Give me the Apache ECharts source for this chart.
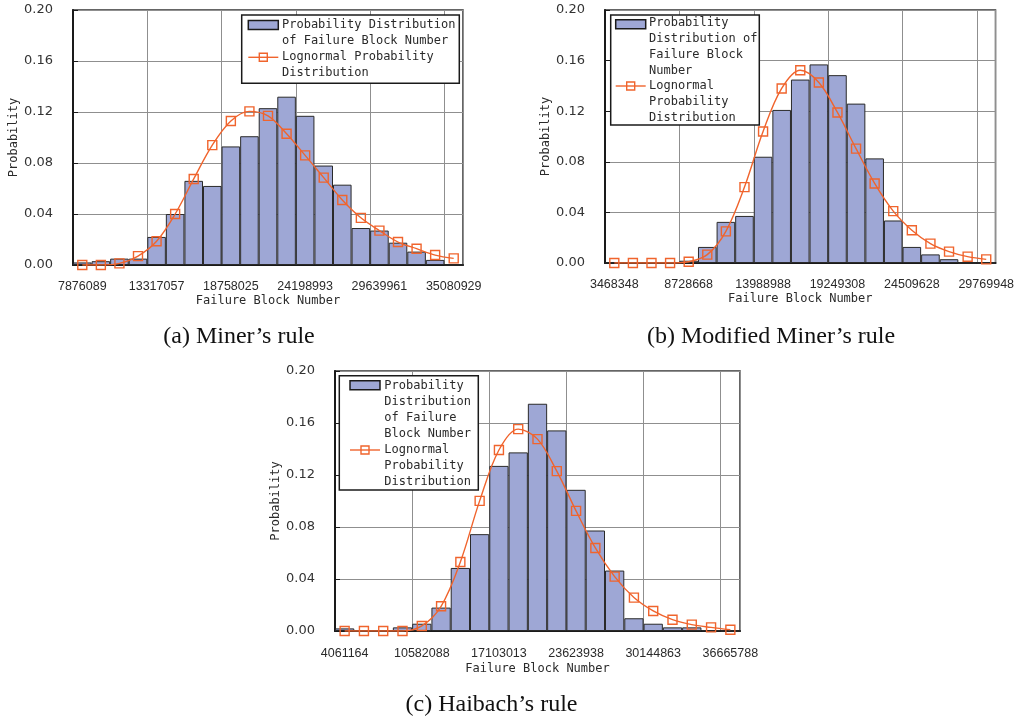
<!DOCTYPE html>
<html>
<head>
<meta charset="utf-8">
<script src="https://cdn.jsdelivr.net/npm/echarts@6/dist/echarts.min.js"></script>
<style>
html,body{margin:0;padding:0;background:#fff;}
#c{width:1017px;height:719px;}
</style>
</head>
<body>
<div id="c"></div>
<script>
// ---- data ----
const catsA = [7876089, 9236331, 10596573, 11956815, 13317057, 14677299, 16037541, 17397783, 18758025, 20118267, 21478509, 22838751, 24198993, 25559235, 26919477, 28279719, 29639961, 31000203, 32360445, 33720687, 35080929];
const barsA = [0.002, 0.003, 0.005, 0.005, 0.022, 0.040, 0.066, 0.062, 0.093, 0.101, 0.123, 0.132, 0.117, 0.078, 0.063, 0.029, 0.027, 0.0175, 0.0105, 0.004, 0];
const logA  = [0.000, 0.000, 0.0013, 0.007, 0.0186, 0.040, 0.0675, 0.094, 0.113, 0.1205, 0.117, 0.103, 0.086, 0.0685, 0.051, 0.037, 0.027, 0.018, 0.0128, 0.0078, 0.0052];

const catsB = [3468348, 4783428, 6098508, 7413588, 8728668, 10043748, 11358828, 12673908, 13988988, 15304068, 16619148, 17934228, 19249308, 20564388, 21879468, 23194548, 24509628, 25824708, 27139788, 28454868, 29769948];
const barsB = [0.0005, 0.0005, 0.0005, 0.0008, 0.0018, 0.0127, 0.0325, 0.0372, 0.084, 0.121, 0.145, 0.157, 0.1485, 0.126, 0.0827, 0.0336, 0.0127, 0.0068, 0.003, 0, 0];
const logB  = [0, 0, 0, 0, 0.001, 0.0066, 0.025, 0.060, 0.104, 0.138, 0.1524, 0.1427, 0.119, 0.0904, 0.0629, 0.041, 0.0259, 0.0153, 0.009, 0.005, 0.0029];

const catsC = [4061164, 5691395, 7321626, 8951857, 10582088, 12212319, 13842550, 15472782, 17103013, 18733244, 20363475, 21993707, 23623938, 25254169, 26884400, 28514632, 30144863, 31775094, 33405325, 35035557, 36665788];
const barsC = [0.002, 0, 0, 0.0028, 0.0056, 0.018, 0.0485, 0.0745, 0.127, 0.1374, 0.1748, 0.1543, 0.1086, 0.0773, 0.0465, 0.0098, 0.0056, 0.0028, 0.0028, 0.0006, 0];
const logC  = [0, 0, 0, 0, 0.0039, 0.019, 0.0531, 0.1001, 0.1392, 0.1553, 0.1476, 0.123, 0.0924, 0.0639, 0.0418, 0.0257, 0.0154, 0.0087, 0.0049, 0.0028, 0.001];

const yTicks = [0, 0.04, 0.08, 0.12, 0.16, 0.20];
const captions = ["(a) Miner\u2019s rule", "(b) Modified Miner\u2019s rule", "(c) Haibach\u2019s rule"];
const barName = "Probability Distribution of Failure Block Number";
const lineName = "Lognormal Probability Distribution";
const legendA = ["Probability Distribution\nof Failure Block Number", "Lognormal Probability\nDistribution"];
const legendB = ["Probability\nDistribution of\nFailure Block\nNumber", "Lognormal\nProbability\nDistribution"];
const legendC = ["Probability\nDistribution\nof Failure\nBlock Number", "Lognormal\nProbability\nDistribution"];

// ---- styles ----
const BAR = '#9EA7D5';
const ORANGE = '#F0642D';
const MONO = '"DejaVu Sans Mono", monospace';
const TXT = '#2a2a2a';

const grids = [
  {left: 73, top: 10, width: 390, height: 255},
  {left: 605, top: 10, width: 392, height: 253},
  {left: 335, top: 371, width: 405, height: 260}
];
const cats = [catsA, catsB, catsC];
const bars = [barsA, barsB, barsC];
const logs = [logA, logB, logC];

function xAxis(i, gap, lblMargin) {
  return {
    type: 'category', gridIndex: i, data: cats[i].map(String),
    boundaryGap: true,
    name: 'Failure Block Number', nameLocation: 'middle', nameGap: gap,
    nameTextStyle: {fontFamily: MONO, fontSize: 12, color: TXT},
    axisLine: {lineStyle: {color: '#1a1a1a', width: 2}},
    axisTick: {show: false},
    axisLabel: {interval: 3, margin: lblMargin, fontFamily: '"Liberation Sans", Arial, sans-serif', fontSize: 12.5, color: TXT},
    splitLine: {show: true, interval: 3, lineStyle: {color: '#8f8f8f', width: 1}}
  };
}
function yAxis(i) {
  return {
    type: 'value', gridIndex: i, min: 0, max: 0.2, interval: 0.04,
    name: 'Probability', nameLocation: 'middle', nameGap: 52,
    nameTextStyle: {fontFamily: MONO, fontSize: 12, color: TXT},
    axisLine: {show: true, lineStyle: {color: '#1a1a1a', width: 2}},
    axisTick: {show: true, inside: true, length: 5, lineStyle: {color: '#1a1a1a'}},
    axisLabel: {margin: 20, fontFamily: '"DejaVu Sans", sans-serif', fontSize: 13, color: '#333',
      formatter: v => yTicks.indexOf(+v.toFixed(2)) >= 0 ? v.toFixed(2) : ''},
    splitLine: {show: true, lineStyle: {color: '#8f8f8f', width: 1}}
  };
}

const series = [];
for (let i = 0; i < 3; i++) {
  series.push({
    type: 'bar', name: barName, xAxisIndex: i, yAxisIndex: i, data: bars[i],
    barWidth: '100%', barCategoryGap: 0,
    itemStyle: {color: BAR, borderColor: '#2a2a2a', borderWidth: 1},
    emphasis: {disabled: true}, z: 2
  });
  series.push({
    type: 'line', name: lineName, xAxisIndex: i, yAxisIndex: i, data: logs[i],
    smooth: 0.35, symbol: 'rect', symbolSize: 9,
    lineStyle: {color: ORANGE, width: 1.4},
    itemStyle: {color: 'rgba(255,255,255,0)', borderColor: ORANGE, borderWidth: 1.4},
    emphasis: {disabled: true}, z: 3
  });
}

function legendGraphic(box, icon, textX, lines, tops, lh) {
  const g = [];
  g.push({type: 'rect', shape: {x: box[0], y: box[1], width: box[2], height: box[3]},
    style: {fill: '#fff', stroke: '#1a1a1a', lineWidth: 1.5}, z: 100});
  g.push({type: 'rect', shape: {x: icon[0], y: icon[1] - 4.5, width: 30, height: 9},
    style: {fill: BAR, stroke: '#1a1a1a', lineWidth: 1.5}, z: 101});
  g.push({type: 'line', shape: {x1: icon[0], y1: icon[2], x2: icon[0] + 30, y2: icon[2]},
    style: {stroke: ORANGE, lineWidth: 1.4}, z: 101});
  g.push({type: 'rect', shape: {x: icon[0] + 11, y: icon[2] - 4, width: 8, height: 8},
    style: {fill: 'none', stroke: ORANGE, lineWidth: 1.4}, z: 102});
  for (let k = 0; k < 2; k++) {
    g.push({type: 'text', x: textX, y: tops[k], z: 101,
      style: {text: lines[k], font: '12px ' + MONO, fill: TXT, lineHeight: lh, verticalAlign: 'top', align: 'left'}});
  }
  return g;
}

const graphic = [].concat(
  legendGraphic([241.7, 15, 217.6, 68.3], [248.3, 25, 57.3], 282, legendA, [17, 49.3], 16),
  legendGraphic([610.7, 15, 148.6, 110], [615.7, 24.2, 86], 649, legendB, [15.5, 78.2], 15.7),
  legendGraphic([339.3, 375.7, 139, 114.3], [350, 385.2, 450], 384.3, legendC, [377.7, 442], 16),
  [
    {type: 'text', x: 239, y: 337, style: {text: captions[0], font: '24px "Liberation Serif", "Times New Roman", serif', fill: '#111', align: 'center', verticalAlign: 'middle'}},
    {type: 'text', x: 771, y: 337, style: {text: captions[1], font: '24px "Liberation Serif", "Times New Roman", serif', fill: '#111', align: 'center', verticalAlign: 'middle'}},
    {type: 'text', x: 491.5, y: 705, style: {text: captions[2], font: '24px "Liberation Serif", "Times New Roman", serif', fill: '#111', align: 'center', verticalAlign: 'middle'}}
  ]
);

const chart = echarts.init(document.getElementById('c'), null, {renderer: 'canvas'});
chart.setOption({
  animation: false,
  backgroundColor: '#fff',
  grid: grids.map(g => Object.assign({show: true, borderColor: '#333', borderWidth: 1.5, backgroundColor: 'transparent'}, g)),
  xAxis: [xAxis(0, 30, 15), xAxis(1, 30, 15), xAxis(2, 32, 16)],
  yAxis: [yAxis(0), yAxis(1), yAxis(2)],
  series: series,
  graphic: graphic
});
</script>
</body>
</html>
